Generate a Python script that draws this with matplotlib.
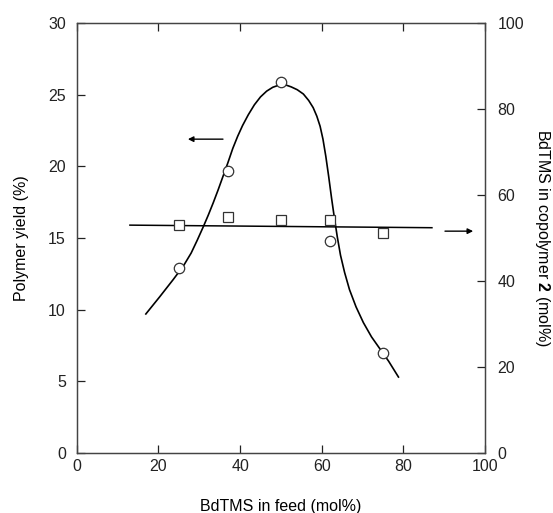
import numpy as np
import matplotlib.pyplot as plt

plt.rcParams['font.family'] = ['Liberation Sans', 'DejaVu Sans']
plt.rcParams['mathtext.fontset'] = 'custom'
plt.rcParams['mathtext.bf'] = 'Liberation Sans:bold'
plt.rcParams['mathtext.rm'] = 'Liberation Sans'

# measured points
feed = [25, 37, 50, 62, 75]
yield_pct = [12.9, 19.7, 25.9, 14.8, 7.0]
copolymer = [53.0, 54.9, 54.2, 54.2, 51.2]

# hand-drawn guide curve through the yield points
curve_x = [16.9, 20.3, 23.6, 26.1, 28.0, 29.5, 31.0, 32.2, 33.4, 34.6, 35.8,
           37.0, 38.2, 39.4, 40.6, 42.0, 43.5, 45.0, 46.5, 48.0, 49.5, 51.0,
           52.5, 54.0, 55.5, 56.8, 57.9, 58.8, 59.6, 60.3, 61.0, 61.7, 62.4,
           63.1, 63.8, 64.6, 65.6, 66.8, 68.4, 70.2, 72.2, 74.3, 76.4, 78.8]
curve_y = [9.70, 10.90, 12.10, 13.05, 13.95, 14.85, 15.80, 16.60, 17.45,
           18.35, 19.30, 20.25, 21.25, 22.10, 22.85, 23.60, 24.30, 24.85,
           25.25, 25.52, 25.67, 25.70, 25.55, 25.35, 25.05, 24.60, 24.10,
           23.50, 22.80, 21.90, 20.70, 19.30, 17.80, 16.40, 15.10, 13.80,
           12.60, 11.40, 10.20, 9.10, 8.10, 7.25, 6.40, 5.30]

# straight guide line through the copolymer points
line_x = [13, 87]
line_y = [53.0, 52.4]

fig = plt.figure(figsize=(5.53, 5.13), dpi=100)
ax = fig.add_axes([0.139, 0.117, 0.738, 0.838])
ax2 = ax.twinx()

ax.plot(curve_x, curve_y, color='black', lw=1.2)
ax.plot(feed, yield_pct, 'o', ms=7.5, mfc='white', mec='#333333', mew=0.9)
ax2.plot(line_x, line_y, color='black', lw=1.1)
ax2.plot(feed, copolymer, 's', ms=7, mfc='white', mec='#333333', mew=0.9)

ax.set_xlim(0, 100)
ax.set_ylim(0, 30)
ax2.set_ylim(0, 100)
ax.set_xticks(np.arange(0, 101, 20))
ax.set_yticks(np.arange(0, 31, 5))
ax2.set_yticks(np.arange(0, 101, 20))

ax.tick_params(direction='in', length=6, width=0.9, labelsize=11.5,
               top=True, colors='#222222')
ax.tick_params(axis='y', pad=8)
ax.tick_params(axis='x', pad=4)
ax2.tick_params(direction='in', length=6, width=0.9, labelsize=11.5, pad=9,
                colors='#222222')
for a in (ax, ax2):
    for s in a.spines.values():
        s.set_color('#444444')
        s.set_linewidth(0.9)

ax.set_xlabel('BdTMS in feed (mol%)', fontsize=11.5, labelpad=18)
ax.set_ylabel('Polymer yield (%)', fontsize=11.5, labelpad=14)
ax2.set_ylabel(r'BdTMS in copolymer $\mathbf{2}$ (mol%)', fontsize=11.5,
               rotation=270, labelpad=20)

# arrows pointing to the matching axis
ax.annotate('', xy=(27.2, 21.9), xytext=(35.8, 21.9),
            arrowprops=dict(arrowstyle='-|>', color='black', lw=1.0,
                            mutation_scale=8, shrinkA=0, shrinkB=0))
ax2.annotate('', xy=(97.1, 51.6), xytext=(90.2, 51.6),
             arrowprops=dict(arrowstyle='-|>', color='black', lw=1.0,
                             mutation_scale=8, shrinkA=0, shrinkB=0))

fig.savefig('out.png', dpi=100)
